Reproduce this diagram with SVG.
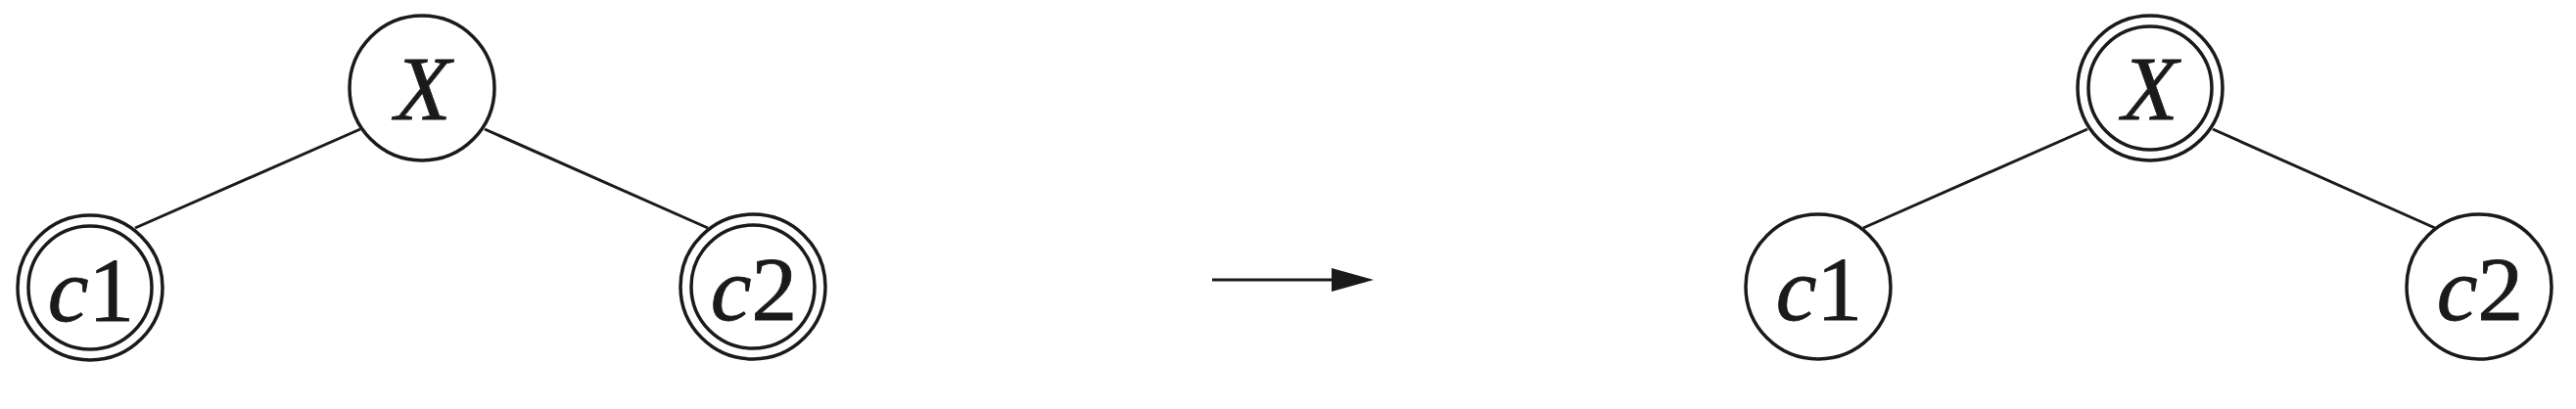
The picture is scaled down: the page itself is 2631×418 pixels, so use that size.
<svg xmlns="http://www.w3.org/2000/svg" width="2631" height="418" viewBox="0 0 2631 418">
<defs>
<style>
.n{fill:#fff;stroke:#1a1a1a;stroke-width:3.5}
.e{stroke:#1a1a1a;stroke-width:3;fill:none}
.t{font-family:"Liberation Serif","Times New Roman",serif;font-size:94px;fill:#1a1a1a;stroke:#1a1a1a;stroke-width:0.8;text-anchor:middle}
.i{font-style:italic}
</style>
<marker id="ah" markerUnits="userSpaceOnUse" markerWidth="44" markerHeight="24" refX="0" refY="12" orient="auto">
<path d="M0,0 L43,12 L0,24 Z" fill="#1a1a1a"/>
</marker>
</defs>
<g id="connectors">
<line class="e" x1="368" y1="132" x2="138" y2="233"/>
<line class="e" x1="495" y1="132" x2="723" y2="233"/>
<line class="e" x1="1238" y1="286" x2="1360" y2="286" marker-end="url(#ah)"/>
<line class="e" x1="2132" y1="132" x2="1903" y2="233"/>
<line class="e" x1="2260" y1="132" x2="2487" y2="233"/>
</g>
<g id="left-X">
<circle class="n" cx="431" cy="90" r="74"/>
<text class="t i" x="432" y="122">X</text>
</g>
<g id="left-c1">
<circle class="n" cx="92" cy="294" r="74"/>
<circle class="n" cx="92" cy="294" r="63"/>
<text class="t" x="93" y="328"><tspan class="i">c</tspan>1</text>
</g>
<g id="left-c2">
<circle class="n" cx="769" cy="293" r="74"/>
<circle class="n" cx="769" cy="293" r="63"/>
<text class="t" x="770" y="327"><tspan class="i">c</tspan>2</text>
</g>
<g id="right-X">
<circle class="n" cx="2196" cy="90" r="74"/>
<circle class="n" cx="2196" cy="90" r="63"/>
<text class="t i" x="2196" y="122">X</text>
</g>
<g id="right-c1">
<circle class="n" cx="1857" cy="293" r="74"/>
<text class="t" x="1858" y="327"><tspan class="i">c</tspan>1</text>
</g>
<g id="right-c2">
<circle class="n" cx="2532" cy="293" r="74"/>
<text class="t" x="2533" y="327"><tspan class="i">c</tspan>2</text>
</g>
</svg>
